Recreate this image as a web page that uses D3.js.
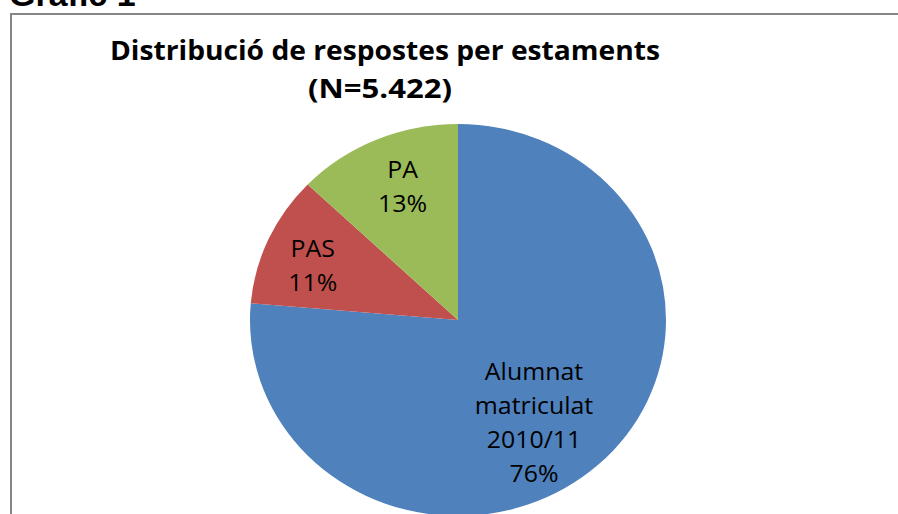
<!DOCTYPE html>
<html>
<head>
<meta charset="utf-8">
<script src="https://cdn.jsdelivr.net/npm/d3@7"></script>
<style>
  html, body { margin: 0; padding: 0; background: #fff; overflow: hidden; }
  svg { display: block; }
</style>
</head>
<body>
<svg id="chart" width="898" height="514"></svg>
<script>
// data (N = 5.422)
const categories = ["Alumnat matriculat 2010/11", "PAS", "PA"];
const labelLines = [["Alumnat", "matriculat", "2010/11"], ["PAS"], ["PA"]];
const counts = [4140, 585, 697];
const colors = ["#4F81BD", "#C0504D", "#9BBB59"];
const title = ["Distribució de respostes per estaments", "(N=5.422)"];

const svg = d3.select("#chart");
const W = 898, H = 514;
const total = d3.sum(counts);
const font = "'Open Sans', Lato, sans-serif";

// figure caption, cut at the top of the picture
svg.append("text")
  .attr("x", 9).attr("y", 6)
  .attr("font-family", "Liberation Sans, Arial, sans-serif")
  .attr("font-weight", "bold")
  .attr("font-size", 34)
  .attr("fill", "#000")
  .text("Gràfic 1");

// chart frame
svg.append("rect")
  .attr("x", 11).attr("y", 14)
  .attr("width", W + 20).attr("height", H + 20)
  .attr("fill", "none")
  .attr("stroke", "#868686")
  .attr("stroke-width", 2);

// title
const t = svg.append("text")
  .attr("font-family", font)
  .attr("font-weight", "bold")
  .attr("font-size", 26)
  .attr("fill", "#000")
  .attr("text-anchor", "middle");
t.append("tspan").attr("x", 385).attr("y", 60)
  .attr("textLength", 550).attr("lengthAdjust", "spacingAndGlyphs")
  .text(title[0]);
t.append("tspan").attr("x", 380).attr("y", 98)
  .attr("textLength", 144).attr("lengthAdjust", "spacingAndGlyphs")
  .text(title[1]);

// pie (slightly squashed vertically, as in the original)
const cx = 458, cy = 320, r = 208, ry = 196;
const g = svg.append("g").attr("transform", `translate(${cx},${cy})`);

const pie = d3.pie().sort(null).value((d) => d)(counts);
const arc = d3.arc().innerRadius(0).outerRadius(r);

g.append("g").attr("transform", `scale(1, ${ry / r})`)
  .selectAll("path")
  .data(pie)
  .enter()
  .append("path")
  .attr("d", arc)
  .attr("fill", (d, i) => colors[i]);

// label placement, like Excel's best fit
const labelPlace = [
  { k: 0.64, shift: 0.135 },
  { k: 0.75, shift: -0.05 },
  { k: 0.73, shift: 0.03 }
];
const lineH = 34;

pie.forEach((d, i) => {
  const a = (d.startAngle + d.endAngle) / 2 + labelPlace[i].shift;
  const rr = r * labelPlace[i].k;
  const lx = rr * Math.sin(a);
  const ly = -rr * Math.cos(a) * (ry / r);
  const lines = labelLines[i].concat([d3.format(".0%")(d.data / total)]);
  // text in the original is a little wider than it is tall
  const txt = g.append("g")
    .attr("transform", `translate(${lx},0) scale(1.06,1)`)
    .append("text")
    .attr("font-family", font)
    .attr("font-size", 23.5)
    .attr("fill", "#000")
    .attr("text-anchor", "middle");
  const y0 = ly - ((lines.length - 1) * lineH) / 2 + 8;
  lines.forEach((s, j) => {
    txt.append("tspan").attr("x", 0).attr("y", y0 + j * lineH).text(s);
  });
});
</script>
</body>
</html>
